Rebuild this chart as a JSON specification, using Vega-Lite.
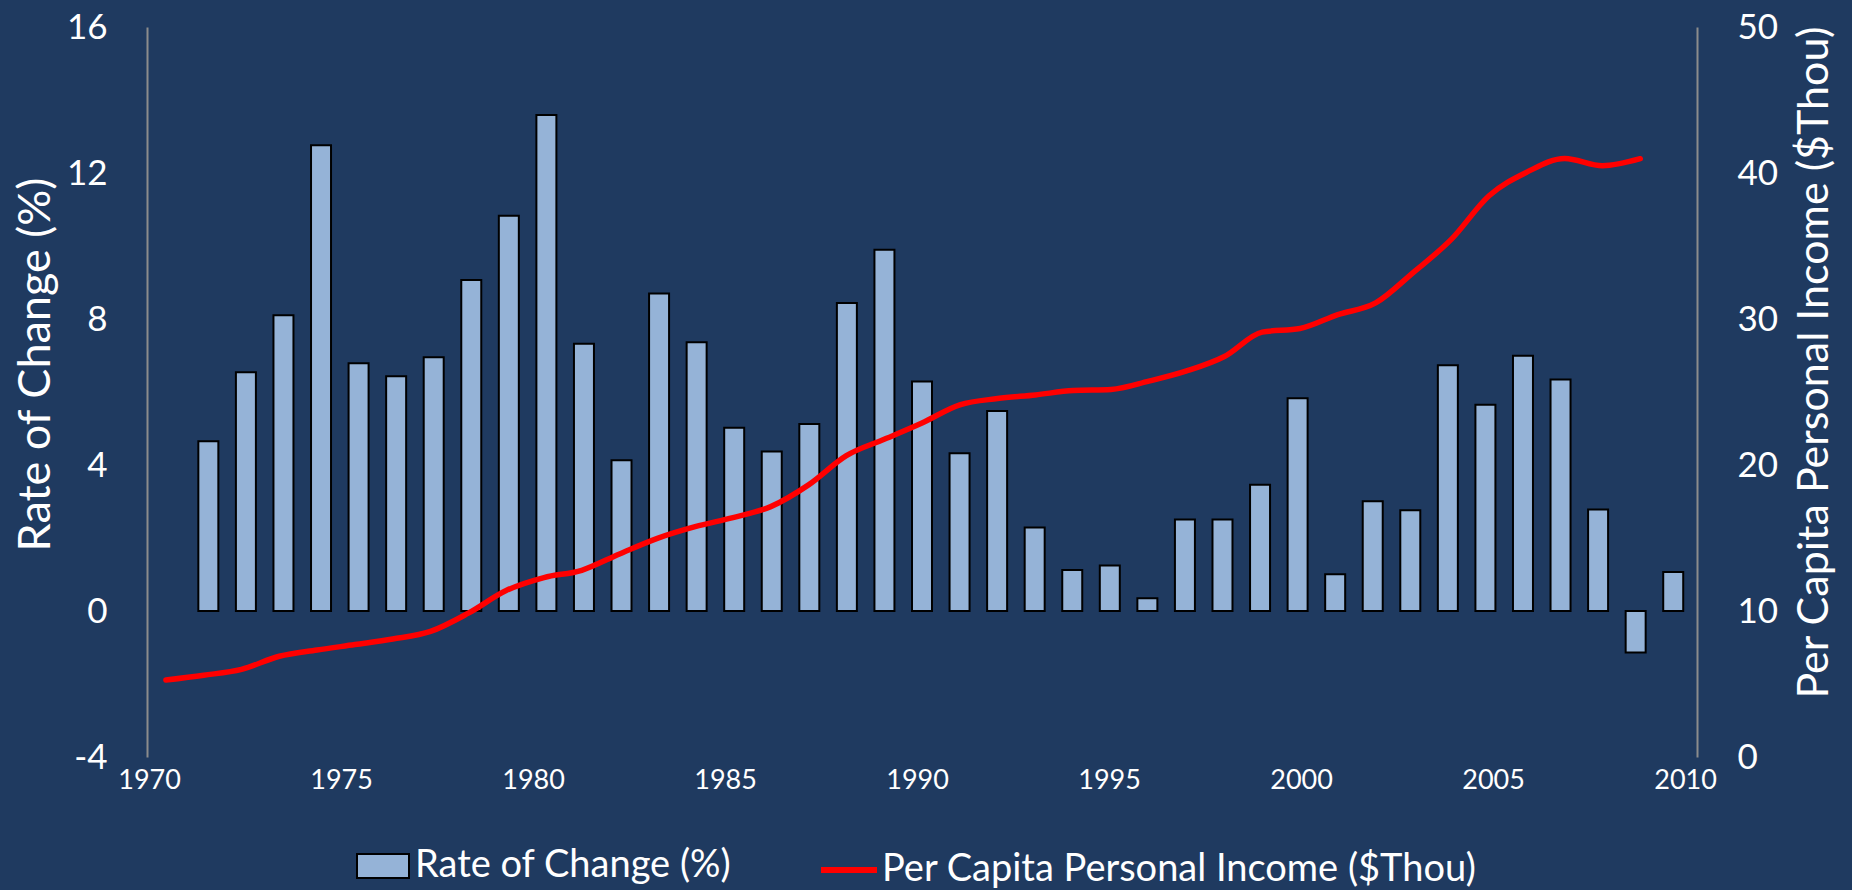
{
  "$schema": "https://vega.github.io/schema/vega-lite/v6.json",
  "width": 1550,
  "height": 730,
  "autosize": {"type": "none"},
  "padding": {"left": 147, "top": 27, "right": 155, "bottom": 133},
  "background": "#1f3a60",
  "config": {
    "font": "Lato",
    "view": {"stroke": null},
    "axis": {"labelColor": "#ffffff", "titleColor": "#ffffff", "titleFontWeight": "normal", "grid": false, "ticks": false, "labelFont": "Lato", "titleFont": "Lato"},
    "legend": {"labelColor": "#ffffff", "labelFont": "Lato", "labelFontSize": 38, "labelLimit": 1000}
  },
  "datasets": {
    "rate": [
      {"year": 1971, "rate": 4.65}, {"year": 1972, "rate": 6.54}, {"year": 1973, "rate": 8.10}, {"year": 1974, "rate": 12.76},
      {"year": 1975, "rate": 6.79}, {"year": 1976, "rate": 6.43}, {"year": 1977, "rate": 6.95}, {"year": 1978, "rate": 9.07},
      {"year": 1979, "rate": 10.83}, {"year": 1980, "rate": 13.59}, {"year": 1981, "rate": 7.32}, {"year": 1982, "rate": 4.13},
      {"year": 1983, "rate": 8.70}, {"year": 1984, "rate": 7.36}, {"year": 1985, "rate": 5.02}, {"year": 1986, "rate": 4.37},
      {"year": 1987, "rate": 5.12}, {"year": 1988, "rate": 8.44}, {"year": 1989, "rate": 9.90}, {"year": 1990, "rate": 6.29},
      {"year": 1991, "rate": 4.32}, {"year": 1992, "rate": 5.48}, {"year": 1993, "rate": 2.29}, {"year": 1994, "rate": 1.12},
      {"year": 1995, "rate": 1.25}, {"year": 1996, "rate": 0.35}, {"year": 1997, "rate": 2.51}, {"year": 1998, "rate": 2.51},
      {"year": 1999, "rate": 3.46}, {"year": 2000, "rate": 5.83}, {"year": 2001, "rate": 1.01}, {"year": 2002, "rate": 3.01},
      {"year": 2003, "rate": 2.76}, {"year": 2004, "rate": 6.73}, {"year": 2005, "rate": 5.65}, {"year": 2006, "rate": 6.99},
      {"year": 2007, "rate": 6.34}, {"year": 2008, "rate": 2.78}, {"year": 2009, "rate": -1.14}, {"year": 2010, "rate": 1.07}
    ],
    "income": [
      {"year": 1970, "income": 5.27}, {"year": 1971, "income": 5.6}, {"year": 1972, "income": 6.0}, {"year": 1973, "income": 6.9},
      {"year": 1974, "income": 7.33}, {"year": 1975, "income": 7.7}, {"year": 1976, "income": 8.08}, {"year": 1977, "income": 8.6},
      {"year": 1978, "income": 9.85}, {"year": 1979, "income": 11.4}, {"year": 1980, "income": 12.29}, {"year": 1981, "income": 12.79},
      {"year": 1982, "income": 13.91}, {"year": 1983, "income": 14.98}, {"year": 1984, "income": 15.78}, {"year": 1985, "income": 16.4},
      {"year": 1986, "income": 17.15}, {"year": 1987, "income": 18.64}, {"year": 1988, "income": 20.64}, {"year": 1989, "income": 21.76},
      {"year": 1990, "income": 22.88}, {"year": 1991, "income": 24.12}, {"year": 1992, "income": 24.55}, {"year": 1993, "income": 24.8},
      {"year": 1994, "income": 25.1}, {"year": 1995, "income": 25.17}, {"year": 1996, "income": 25.74}, {"year": 1997, "income": 26.44},
      {"year": 1998, "income": 27.43}, {"year": 1999, "income": 29.1}, {"year": 2000, "income": 29.35}, {"year": 2001, "income": 30.3},
      {"year": 2002, "income": 31.1}, {"year": 2003, "income": 33.2}, {"year": 2004, "income": 35.45}, {"year": 2005, "income": 38.44},
      {"year": 2006, "income": 40.06}, {"year": 2007, "income": 41.0}, {"year": 2008, "income": 40.5}, {"year": 2009, "income": 40.98}
    ],
    "ticks": [{"year": 1970}, {"year": 2010}]
  },
  "layer": [
    {
      "layer": [
        {
          "data": {"name": "rate"},
          "mark": {"type": "bar", "width": 20, "stroke": "#000000", "strokeWidth": 2},
          "encoding": {
            "x": {"field": "year", "type": "quantitative", "scale": {"domain": [1969.5, 2010.5], "nice": false, "zero": false}, "axis": null},
            "y": {"field": "rate", "type": "quantitative", "scale": {"domain": [-4, 16], "nice": false},
              "axis": {"orient": "left", "values": [-4, 0, 4, 8, 12, 16], "labelExpr": "'' + datum.value", "domain": true, "domainColor": "#8c8c8c", "domainWidth": 2, "labelFontSize": 35, "labelPadding": 40,
                "title": "Rate of Change (%)", "titleFontSize": 45, "titleAngle": 270, "titleX": -112, "titleY": 337, "titleBaseline": "middle", "titleAlign": "center"}},
            "fill": {"datum": "Rate of Change (%)", "type": "nominal", "scale": {"range": ["#95b3d7"]},
              "legend": {"orient": "none", "legendX": 209, "legendY": 812, "title": null, "symbolType": "M-1,-0.46H1V0.46H-1Z", "symbolSize": 2704, "symbolStrokeColor": "#000000", "symbolStrokeWidth": 2, "symbolFillColor": "#95b3d7", "labelOffset": 5}}
          }
        },
        {
          "mark": {"type": "rule", "color": "#8c8c8c", "strokeWidth": 2},
          "encoding": {"y": {"datum": 0}}
        }
      ]
    },
    {
      "data": {"name": "income"},
      "mark": {"type": "line", "color": "#ff0000", "strokeWidth": 5.5, "interpolate": "monotone", "strokeCap": "round"},
      "encoding": {
        "x": {"field": "year", "type": "quantitative", "scale": {"domain": [1969.5, 2010.5], "nice": false, "zero": false}, "axis": null},
        "y": {"field": "income", "type": "quantitative", "scale": {"domain": [0, 50], "nice": false},
          "axis": {"orient": "right", "values": [0, 10, 20, 30, 40, 50], "domain": true, "domainColor": "#8c8c8c", "domainWidth": 2, "labelFontSize": 35, "labelPadding": 40,
            "title": "Per Capita Personal Income ($Thou)", "titleFontSize": 43, "titleAngle": 270, "titleX": 117, "titleY": 335, "titleBaseline": "middle", "titleAlign": "center"}},
        "stroke": {"datum": "Per Capita Personal Income ($Thou)", "type": "nominal", "scale": {"range": ["#ff0000"]},
          "legend": {"orient": "none", "legendX": 671, "legendY": 812, "title": null, "symbolType": "stroke", "symbolSize": 3136, "symbolStrokeWidth": 6, "symbolStrokeColor": "#ff0000", "labelOffset": 2}}
      }
    },
    {
      "data": {"name": "ticks"},
      "mark": {"type": "point", "opacity": 0},
      "encoding": {
        "x": {"field": "year", "type": "quantitative", "scale": {"domain": [1969.945, 2010.31], "nice": false, "zero": false},
          "axis": {"orient": "bottom", "values": [1970, 1975, 1980, 1985, 1990, 1995, 2000, 2005, 2010], "format": "d", "domain": false, "labelFontSize": 27, "labelPadding": 10, "title": null}}
      }
    }
  ],
  "resolve": {"scale": {"x": "independent", "y": "independent", "fill": "independent", "stroke": "independent"}, "axis": {"x": "independent", "y": "independent"}}
}
